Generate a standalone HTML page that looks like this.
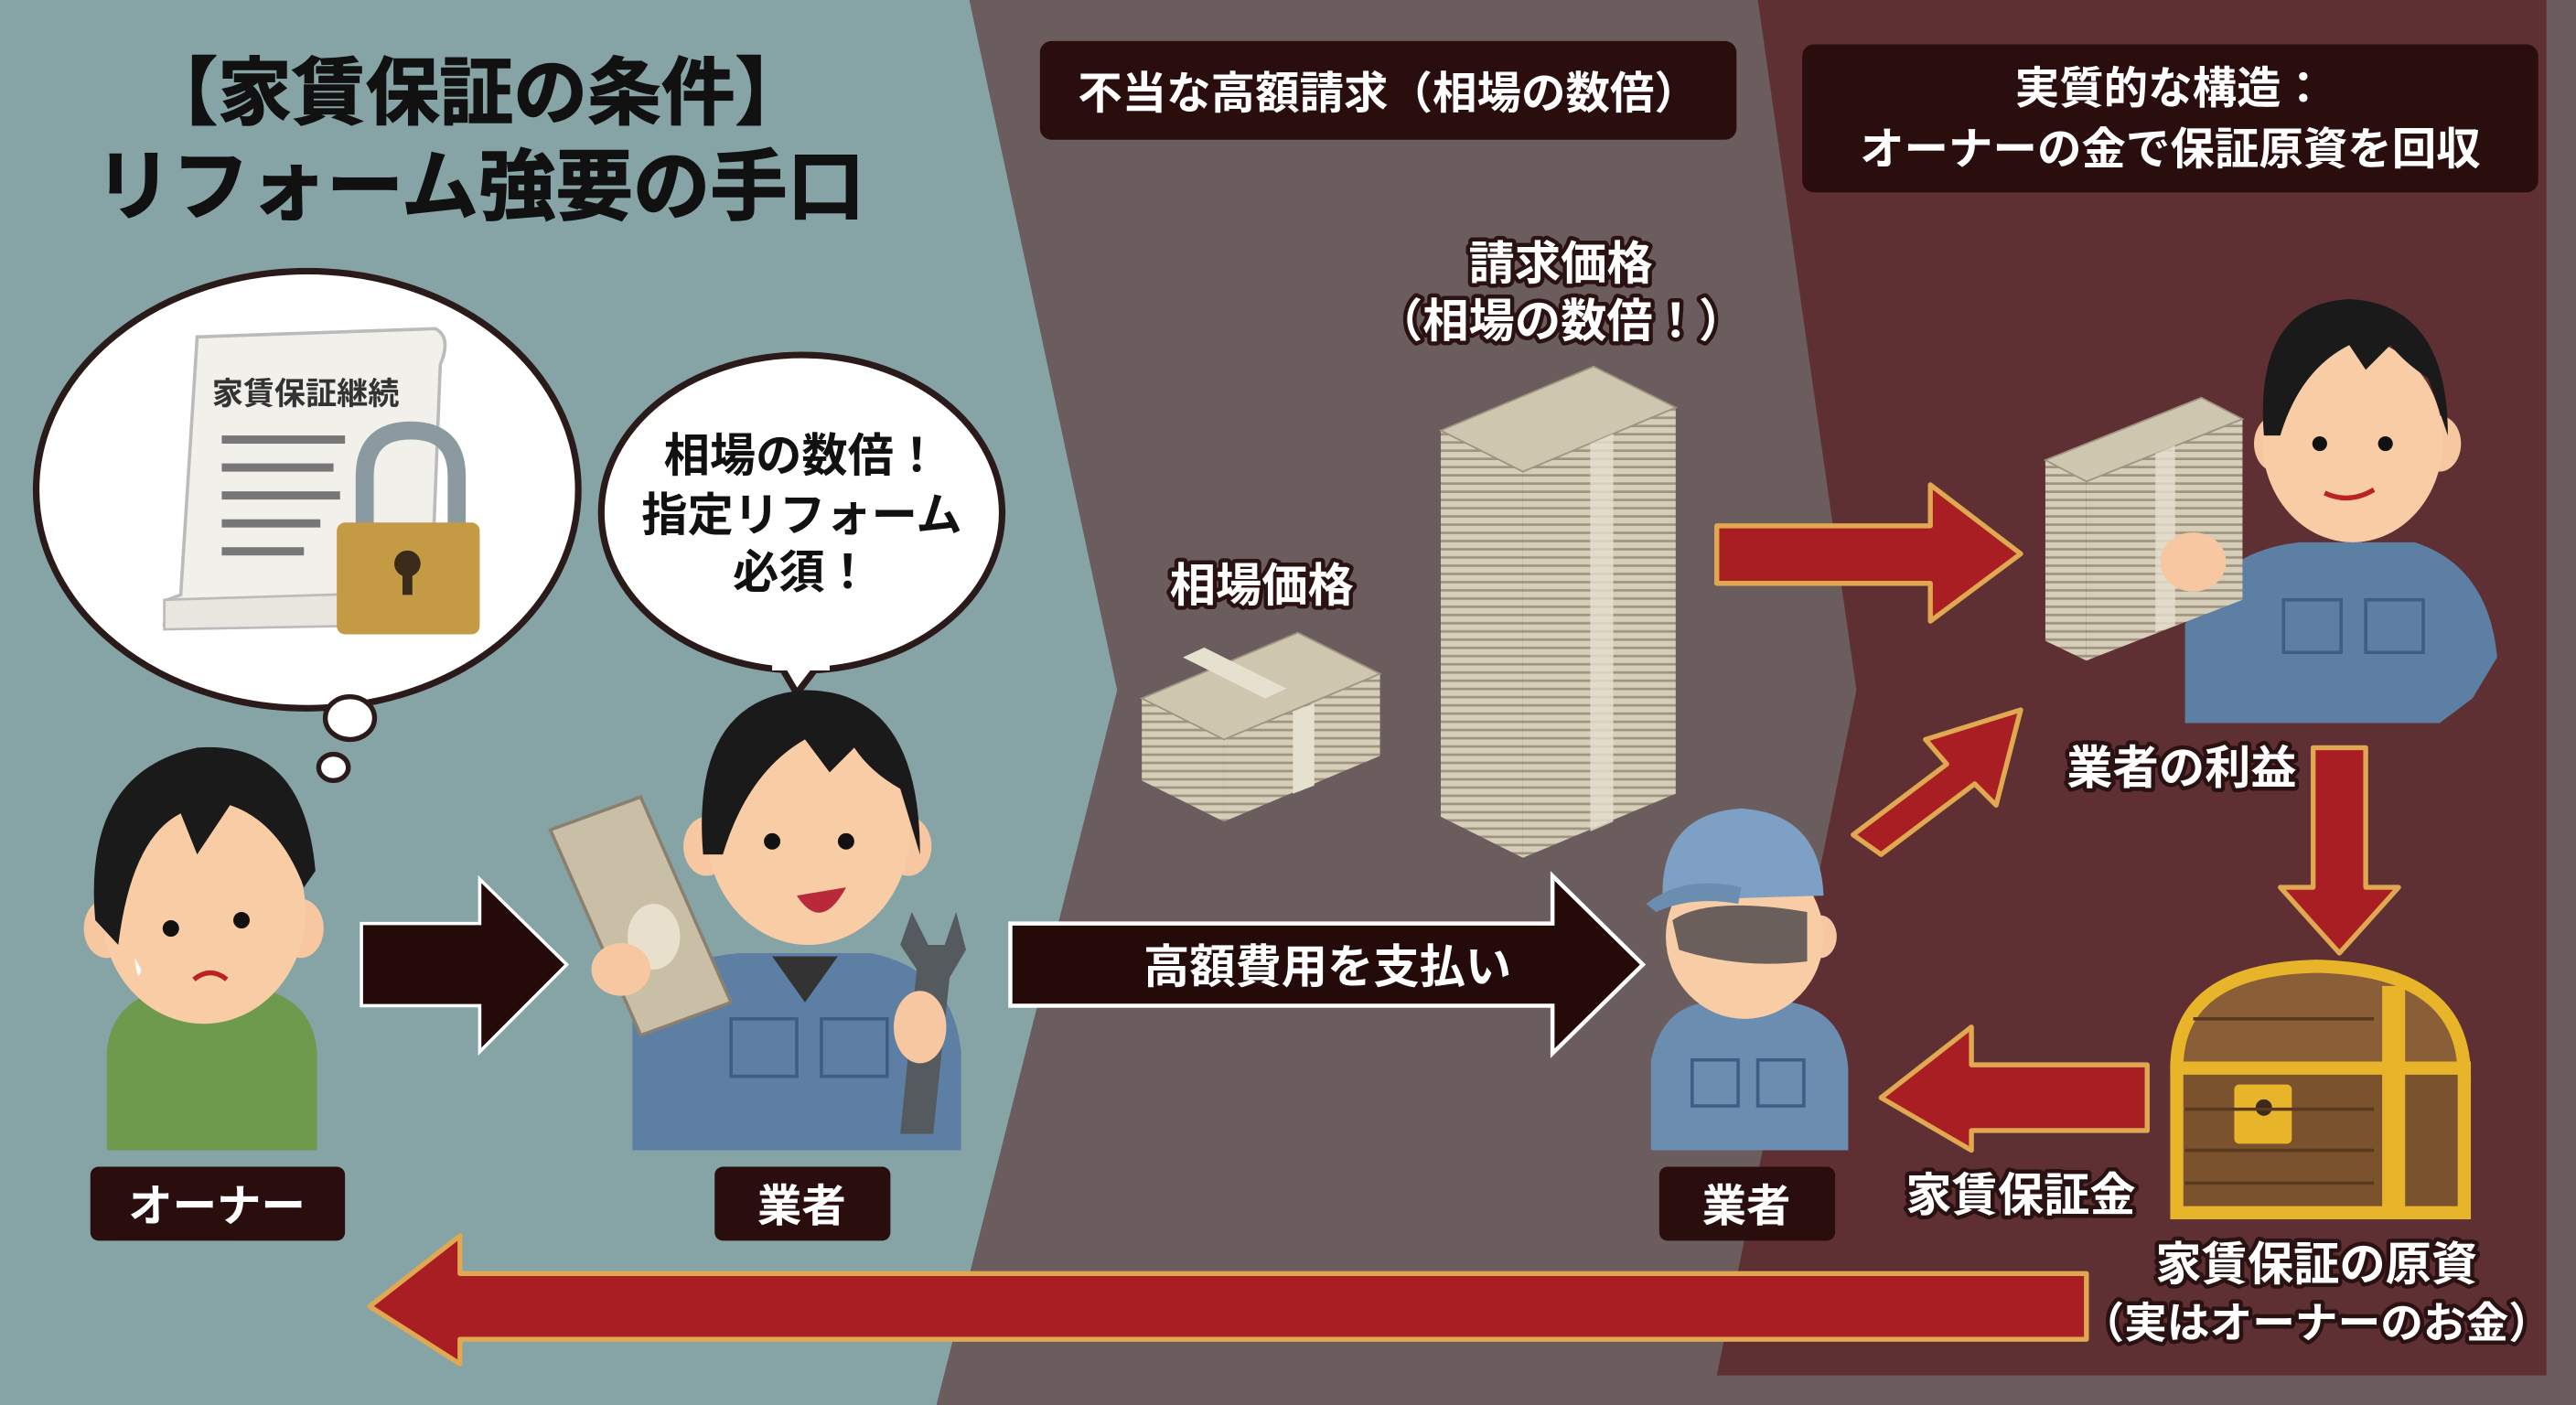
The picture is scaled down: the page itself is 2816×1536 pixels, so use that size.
<!DOCTYPE html>
<html><head><meta charset="utf-8">
<style>
html,body{margin:0;padding:0;background:#6b5d5d;}
svg{display:block;}
text{font-family:"Liberation Sans","Noto Sans CJK JP",sans-serif;font-weight:bold;}
.w{fill:#fff;}
.o{fill:#fff;stroke:#2a1212;stroke-width:5;paint-order:stroke;stroke-linejoin:round;}
</style></head>
<body>
<svg width="2816" height="1536" viewBox="0 0 1568 855" preserveAspectRatio="none" xmlns="http://www.w3.org/2000/svg">
<defs>
<pattern id="bills" width="8" height="5" patternUnits="userSpaceOnUse">
<rect width="8" height="5" fill="#d6ceb9"/><rect y="3.5" width="8" height="1.5" fill="#9e9480"/>
</pattern>
</defs>
<rect width="1568" height="855" fill="#6b5d5d"/>
<polygon points="0,0 590,0 680,420 570,855 0,855" fill="#86a4a6"/>
<polygon points="1070,0 1550,0 1550,837 1045,837 1130,420" fill="#5e2f33"/>

<text x="290" y="72" font-size="45" text-anchor="middle" fill="#111" stroke="#111" stroke-width="0.8">【家賃保証の条件】</text>
<text x="292" y="130" font-size="47" text-anchor="middle" fill="#111" stroke="#111" stroke-width="0.8">リフォーム強要の手口</text>

<rect x="633" y="25" width="424" height="60" rx="7" fill="#2a0e0e"/>
<text x="845" y="66" font-size="27" text-anchor="middle" class="w">不当な高額請求（相場の数倍）</text>
<rect x="1097" y="27" width="448" height="90" rx="7" fill="#2a0e0e"/>
<text x="1321" y="63" font-size="27" text-anchor="middle" class="w">実質的な構造：</text>
<text x="1321" y="100" font-size="27" text-anchor="middle" class="w">オーナーの金で保証原資を回収</text>

<ellipse cx="187" cy="298" rx="165" ry="133" fill="#fff" stroke="#2a1a1a" stroke-width="4"/>
<ellipse cx="213" cy="437" rx="15" ry="13" fill="#fff" stroke="#2a1a1a" stroke-width="3"/>
<ellipse cx="203" cy="467" rx="9" ry="8" fill="#fff" stroke="#2a1a1a" stroke-width="3"/>
<path d="M120,205 L265,200 Q275,205 268,222 L262,375 L100,380 L102,365 L110,362 Z" fill="#f2f0ea" stroke="#bbb" stroke-width="2"/>
<path d="M100,365 L262,360 L262,380 L100,383 Z" fill="#e8e6df" stroke="#bbb" stroke-width="1.5"/>
<text x="186" y="246" font-size="19" text-anchor="middle" fill="#333">家賃保証継続</text>
<g fill="#777">
<rect x="135" y="265" width="75" height="5"/><rect x="135" y="282" width="68" height="5"/><rect x="135" y="299" width="72" height="5"/><rect x="135" y="316" width="60" height="5"/><rect x="135" y="333" width="50" height="5"/>
</g>
<path d="M222,320 L222,290 Q222,262 250,262 Q278,262 278,290 L278,320" fill="none" stroke="#8b9aa0" stroke-width="11"/>
<rect x="205" y="318" width="87" height="68" rx="5" fill="#c49a44"/>
<circle cx="248" cy="343" r="8" fill="#3a2a1a"/><rect x="245" y="345" width="6" height="17" fill="#3a2a1a"/>

<ellipse cx="488" cy="312" rx="122" ry="96" fill="#fff" stroke="#2a1a1a" stroke-width="4"/>
<path d="M475,405 L485,422 L498,405" fill="#fff" stroke="#2a1a1a" stroke-width="4"/>
<rect x="470" y="398" width="35" height="10" fill="#fff"/>
<text x="488" y="287" font-size="28" text-anchor="middle" fill="#111">相場の数倍！</text>
<text x="488" y="323" font-size="28" text-anchor="middle" fill="#111">指定リフォーム</text>
<text x="488" y="358" font-size="28" text-anchor="middle" fill="#111">必須！</text>

<!-- owner -->
<path d="M65,700 L65,640 Q68,605 110,600 L150,600 Q190,605 193,640 L193,700 Z" fill="#6e9a4e"/>
<ellipse cx="65" cy="565" rx="14" ry="18" fill="#f6c7a0"/>
<ellipse cx="183" cy="565" rx="14" ry="18" fill="#f6c7a0"/>
<ellipse cx="124" cy="555" rx="62" ry="68" fill="#f8cda6"/>
<path d="M58,560 Q50,470 120,455 Q185,450 192,530 L185,540 Q170,500 140,490 L120,520 L110,495 Q80,510 72,575 Z" fill="#1a1a1a"/>
<circle cx="104" cy="565" r="5" fill="#111"/><circle cx="147" cy="560" r="5" fill="#111"/>
<path d="M118,596 Q128,588 138,596" stroke="#b22" stroke-width="3" fill="none"/>
<path d="M82,583 Q84,600 86,590 Z" fill="#fff"/>

<polygon points="220,562 292,562 292,535 345,587 292,640 292,612 220,612" fill="#250a0a" stroke="#fff" stroke-width="2"/>

<!-- worker 1 -->
<path d="M385,700 L385,620 Q395,585 450,580 L530,580 Q580,590 585,640 L585,700 Z" fill="#5e7fa4"/>
<path d="M470,582 L490,610 L510,582 Z" fill="#333"/>
<rect x="445" y="620" width="40" height="35" fill="none" stroke="#3e5f84" stroke-width="2"/>
<rect x="500" y="620" width="40" height="35" fill="none" stroke="#3e5f84" stroke-width="2"/>
<ellipse cx="430" cy="515" rx="14" ry="18" fill="#f6c7a0"/>
<ellipse cx="553" cy="515" rx="14" ry="18" fill="#f6c7a0"/>
<ellipse cx="492" cy="505" rx="62" ry="70" fill="#f8cda6"/>
<path d="M428,520 Q420,425 490,420 Q560,420 560,520 L548,480 Q530,470 520,455 L505,470 L490,450 Q455,470 440,520 Z" fill="#1a1a1a"/>
<circle cx="470" cy="512" r="5" fill="#111"/><circle cx="515" cy="512" r="5" fill="#111"/>
<path d="M485,545 Q500,568 515,540 Z" fill="#b82a3a"/>
<polygon points="335,505 390,485 445,610 390,630" fill="#c9bea6" stroke="#8a8070" stroke-width="2"/>
<ellipse cx="398" cy="570" rx="16" ry="20" fill="#e8e0cc"/>
<ellipse cx="378" cy="590" rx="18" ry="16" fill="#f6c7a0"/>
<path d="M548,690 L558,590 L548,575 L555,555 L565,575 L575,575 L582,555 L588,578 L578,595 L568,690 Z" fill="#555a5e"/>
<ellipse cx="560" cy="625" rx="16" ry="22" fill="#f6c7a0"/>

<!-- money stacks -->
<polygon points="695,425 745,450 745,500 695,475" fill="url(#bills)"/>
<polygon points="745,450 840,410 840,460 745,500" fill="url(#bills)"/>
<polygon points="695,425 790,385 840,410 745,450" fill="#cfc6b0" stroke="#9e9480"/>
<polygon points="787,433 800,428 800,478 787,483" fill="#e6e0cf"/>
<polygon points="720,400 733,394 783,419 770,425" fill="#e6e0cf"/>
<polygon points="877,262 927,287 927,522 877,497" fill="url(#bills)"/>
<polygon points="927,287 1020,248 1020,483 927,522" fill="url(#bills)"/>
<polygon points="877,262 970,223 1020,248 927,287" fill="#cfc6b0" stroke="#9e9480"/>
<polygon points="968,270 982,264 982,500 968,506" fill="#e6e0cf" opacity=".8"/>
<text x="768" y="366" font-size="28" text-anchor="middle" class="o">相場価格</text>
<text x="950" y="170" font-size="28" text-anchor="middle" class="o">請求価格</text>
<text x="950" y="205" font-size="28" text-anchor="middle" class="o">（相場の数倍！）</text>

<polygon points="615,562 945,562 945,533 1000,587 945,641 945,612 615,612" fill="#250a0a" stroke="#fff" stroke-width="2.5"/>
<text x="808" y="598" font-size="28" text-anchor="middle" class="w">高額費用を支払い</text>

<!-- worker 2 -->
<path d="M1005,700 L1005,645 Q1012,612 1040,610 L1090,610 Q1122,615 1125,650 L1125,700 Z" fill="#6a8db0"/>
<rect x="1030" y="645" width="28" height="28" fill="none" stroke="#3e5f84" stroke-width="2"/>
<rect x="1070" y="645" width="28" height="28" fill="none" stroke="#3e5f84" stroke-width="2"/>
<ellipse cx="1108" cy="570" rx="10" ry="13" fill="#f6c7a0"/>
<ellipse cx="1062" cy="570" rx="48" ry="50" fill="#f8cda6"/>
<path d="M1018,560 Q1040,545 1100,555 L1100,585 Q1060,590 1022,578 Z" fill="#6a5f5a"/>
<path d="M1012,548 Q1010,495 1060,492 Q1108,495 1110,545 Z" fill="#7ea0c4"/>
<path d="M1002,550 Q1025,532 1060,540 L1058,550 Q1030,545 1008,555 Z" fill="#6a8db0"/>

<g fill="#a81e22" stroke="#e0a850" stroke-width="3" stroke-linejoin="round">
<polygon points="1045,320 1175,320 1175,295 1230,337 1175,378 1175,355 1045,355"/>
<polygon points="1128,508 1185,465 1172,450 1230,432 1215,490 1202,477 1145,520" />
<polygon points="1408,455 1440,455 1440,540 1460,540 1424,580 1388,540 1408,540"/>
<polygon points="1307,648 1200,648 1200,625 1145,668 1200,700 1200,688 1307,688"/>
<polygon points="1270,775 280,775 280,752 225,795 280,830 280,815 1270,815"/>
</g>

<!-- worker 3 -->
<path d="M1330,440 L1330,380 Q1350,335 1400,330 L1470,330 Q1515,345 1520,400 L1505,425 L1485,440 Z" fill="#5e7fa4"/>
<rect x="1390" y="365" width="35" height="32" fill="none" stroke="#3e5f84" stroke-width="2"/>
<rect x="1440" y="365" width="35" height="32" fill="none" stroke="#3e5f84" stroke-width="2"/>
<ellipse cx="1385" cy="270" rx="13" ry="17" fill="#f6c7a0"/>
<ellipse cx="1485" cy="270" rx="13" ry="17" fill="#f6c7a0"/>
<ellipse cx="1432" cy="268" rx="55" ry="62" fill="#f8cda6"/>
<path d="M1378,265 Q1372,185 1430,182 Q1490,185 1490,265 L1478,230 Q1465,222 1455,210 L1440,225 L1430,210 Q1400,225 1388,265 Z" fill="#1a1a1a"/>
<circle cx="1412" cy="270" r="4.5" fill="#111"/><circle cx="1452" cy="270" r="4.5" fill="#111"/>
<path d="M1415,300 Q1430,307 1445,298" stroke="#b22" stroke-width="3" fill="none"/>
<polygon points="1245,280 1270,293 1270,402 1245,390" fill="url(#bills)"/>
<polygon points="1270,293 1365,255 1365,365 1270,402" fill="url(#bills)"/>
<polygon points="1245,280 1340,242 1365,255 1270,293" fill="#cfc6b0" stroke="#9e9480"/>
<polygon points="1312,276 1324,271 1324,380 1312,385" fill="#e6e0cf" opacity=".8"/>
<ellipse cx="1335" cy="342" rx="20" ry="18" fill="#f6c7a0"/>
<text x="1328" y="477" font-size="28" text-anchor="middle" class="o">業者の利益</text>

<!-- chest -->
<path d="M1325,650 Q1325,590 1410,588 Q1500,590 1500,655 Z" fill="#8a5e36" stroke="#e8b52a" stroke-width="8"/>
<rect x="1325" y="650" width="175" height="88" fill="#7a522e" stroke="#e8b52a" stroke-width="8"/>
<rect x="1450" y="600" width="14" height="138" fill="#e8b52a"/>
<rect x="1360" y="660" width="35" height="36" rx="3" fill="#e8b52a"/>
<circle cx="1378" cy="674" r="5" fill="#3a2a1a"/>
<g stroke="#5a3a1e" stroke-width="2"><line x1="1330" y1="675" x2="1445" y2="675"/><line x1="1330" y1="700" x2="1445" y2="700"/><line x1="1330" y1="720" x2="1445" y2="720"/><line x1="1335" y1="620" x2="1445" y2="620"/></g>

<text x="1230" y="737" font-size="28" text-anchor="middle" class="o">家賃保証金</text>
<text x="1410" y="779" font-size="28" text-anchor="middle" class="o">家賃保証の原資</text>
<text x="1410" y="814" font-size="26" text-anchor="middle" class="o">（実はオーナーのお金）</text>

<rect x="55" y="710" width="155" height="45" rx="5" fill="#2a0e0e"/>
<text x="132" y="743" font-size="27" text-anchor="middle" class="w">オーナー</text>
<rect x="435" y="710" width="107" height="45" rx="5" fill="#2a0e0e"/>
<text x="488" y="743" font-size="27" text-anchor="middle" class="w">業者</text>
<rect x="1010" y="710" width="107" height="45" rx="5" fill="#2a0e0e"/>
<text x="1063" y="743" font-size="27" text-anchor="middle" class="w">業者</text>
</svg>
</body></html>
